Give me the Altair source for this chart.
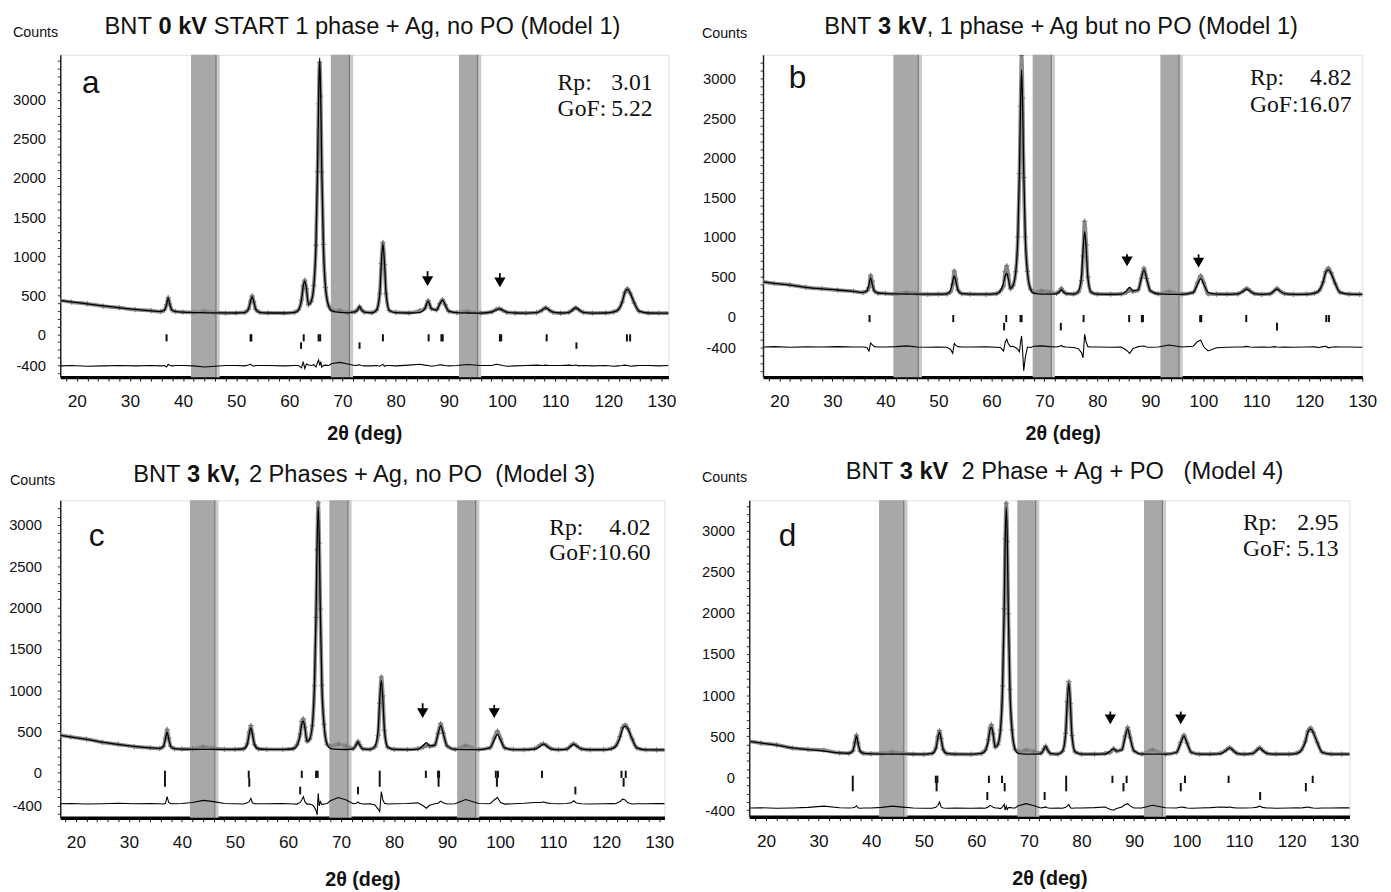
import altair as alt
import pandas as pd

# ---------------- shared 2-theta sampling of the profiles ----------------
two_theta = [
    17, 19, 22, 25, 28, 31, 34,
    35.8, 36.5, 36.9, 37.2, 37.5, 37.9, 38.6,
    40, 42, 44, 46, 48, 50,
    51.6, 52.3, 52.7, 53.0, 53.3, 53.7, 54.4,
    56, 59, 61,
    61.7, 62.3, 62.6, 62.9, 63.2, 63.6,
    64.1, 64.6, 65.0, 65.3, 65.5, 65.7, 65.9, 66.1, 66.4, 66.8, 67.4,
    68, 69.5, 71,
    72.3, 72.9, 73.2, 73.5, 74.1,
    75.5,
    76.4, 77.0, 77.3, 77.6, 77.9, 78.2, 78.8,
    80, 82.5, 84.5,
    85.5, 86.1, 86.7,
    87.7, 88.3, 88.8, 89.3, 90.0,
    91.5, 93.5, 96,
    98.1, 98.9, 99.5, 100.1, 100.9,
    102.5, 104.5, 106.5,
    107.6, 108.2, 108.8, 109.6,
    111, 112.6,
    113.4, 113.9, 114.4, 115.3,
    117, 119.5, 121,
    121.8, 122.6, 123.1, 123.6, 124.1, 124.9, 125.8,
    127.5, 129.5, 131.5]

# ---------------- panel a ----------------
calc_a = [
    430, 414, 388, 362, 338, 318, 300,
    292, 310, 380, 462, 385, 312, 290,
    282, 278, 275, 274, 273, 272,
    278, 320, 420, 483, 420, 318, 280,
    272, 272, 280,
    310, 450, 610, 680, 590, 380,
    420, 620, 1150, 2100, 3000, 3540, 3000, 2100, 1150, 600, 360,
    300, 280, 275,
    285, 320, 354, 322, 283,
    275,
    310, 520, 900, 1158, 900, 520, 305,
    278, 272, 278,
    330, 420, 330,
    310, 390, 437, 380, 295,
    276, 272, 270,
    285, 312, 325, 310, 282,
    272, 270, 276,
    310, 337, 315, 282,
    272, 280,
    318, 337, 318, 280,
    270, 272, 285,
    310, 410, 530, 575, 530, 400, 295,
    272, 270, 270]
obs_a = [
    432, 412, 390, 360, 340, 316, 302,
    290, 312, 378, 470, 388, 310, 291,
    283, 280, 292, 276, 272, 273,
    279, 322, 425, 490, 418, 316, 281,
    273, 271, 281,
    312, 440, 620, 692, 585, 378,
    418, 625, 1140, 2080, 2950, 3480, 3050, 2080, 1150, 598, 362,
    305, 302, 280,
    286, 322, 356, 320, 282,
    276,
    308, 518, 905, 1175, 895, 518, 304,
    279, 274, 300,
    332, 432, 328,
    312, 392, 442, 378, 294,
    277, 290, 271,
    286, 318, 328, 309, 281,
    273, 271, 277,
    311, 340, 314, 281,
    271, 281,
    319, 340, 316, 279,
    271, 273, 286,
    312, 412, 535, 585, 528, 398, 294,
    272, 271, 270]
diff_a = [
    -405, -400, -410, -405, -400, -405, -400,
    -405, -400, -420, -385, -400, -405, -400,
    -400, -405, -420, -410, -400, -400,
    -405, -395, -385, -400, -410, -400, -400,
    -400, -405, -400,
    -400, -430, -350, -440, -380, -395,
    -400, -390, -420, -360, -330, -400, -350, -420, -400, -395, -400,
    -375, -360, -380,
    -400, -395, -390, -400, -405,
    -405,
    -400, -410, -395, -385, -410, -400, -400,
    -405, -395, -385,
    -395, -400, -410,
    -400, -390, -395, -400, -405,
    -400, -388, -400,
    -400, -385, -390, -400, -410,
    -405, -400, -395,
    -400, -395, -400, -400,
    -400, -395,
    -400, -395, -405, -400,
    -405, -400, -410,
    -405, -400, -395, -400, -410, -405, -400,
    -400, -405, -400]

# ---------------- panel b ----------------
calc_b = [
    430, 414, 392, 364, 345, 330, 312,
    300, 320, 400, 482, 405, 318, 292,
    285, 280, 278, 278, 277, 277,
    282, 330, 440, 509, 440, 325, 283,
    277, 277, 285,
    320, 420, 510, 540, 470, 350,
    390, 560, 1020, 1850, 2650, 3110, 2650, 1850, 1000, 560, 340,
    290, 278, 277,
    285, 310, 333, 312, 284,
    278,
    310, 500, 840, 1066, 840, 490, 305,
    278, 276, 278,
    320, 364, 320,
    330, 480, 583, 470, 320,
    280, 276, 276,
    300, 400, 474, 400, 300,
    278, 276, 280,
    318, 342, 318, 285,
    276, 282,
    320, 342, 320, 284,
    276, 276, 290,
    320, 430, 550, 583, 540, 410, 300,
    278, 276, 276]
obs_b = [
    432, 412, 394, 362, 346, 328, 314,
    298, 318, 360, 515, 440, 320, 290,
    286, 282, 298, 282, 276, 277,
    280, 305, 400, 570, 470, 330, 283,
    278, 276, 284,
    318, 380, 560, 636, 520, 345,
    388, 560, 1000, 1800, 2650, 3290, 2750, 1750, 1000, 565, 338,
    300, 320, 300,
    286, 318, 350, 318, 284,
    279,
    305, 450, 760, 1197, 900, 495, 304,
    279, 277, 280,
    300, 330, 312,
    330, 480, 605, 475, 320,
    282, 307, 278,
    300, 420, 509, 420, 280,
    278, 277, 280,
    322, 350, 320, 284,
    276, 282,
    322, 350, 322, 284,
    276, 277, 290,
    318, 430, 560, 605, 548, 410, 300,
    278, 276, 276]
diff_b = [
    -390, -385, -392, -388, -390, -385, -390,
    -390, -395, -440, -340, -360, -385, -390,
    -390, -385, -375, -390, -392, -390,
    -392, -420, -470, -345, -370, -385, -390,
    -390, -388, -392,
    -395, -440, -330, -290, -350, -385,
    -380, -400, -420, -450, -330, -250, -450, -690, -520, -390, -395,
    -380, -375, -385,
    -390, -380, -370, -385, -390,
    -395,
    -410, -460, -525, -230, -330, -385, -390,
    -390, -392, -390,
    -430, -470, -410,
    -385, -380, -378, -390, -392,
    -390, -365, -390,
    -380, -320, -303, -390, -440,
    -400, -392, -390,
    -388, -382, -390, -392,
    -390, -392,
    -385, -390, -392, -390,
    -392, -390, -388,
    -395, -385, -380, -400, -392, -388, -390,
    -390, -392, -390]

# ---------------- panel c ----------------
calc_c = [
    452, 435, 405, 370, 342, 318, 300,
    295, 320, 410, 492, 410, 320, 292,
    286, 283, 282, 282, 282, 282,
    288, 340, 470, 544, 465, 340, 290,
    282, 282, 290,
    330, 460, 590, 623, 540, 380,
    410, 580, 1080, 1950, 2800, 3223, 2800, 1950, 1050, 580, 340,
    292, 282, 281,
    290, 340, 373, 340, 290,
    282,
    318, 520, 880, 1119, 880, 510, 310,
    282, 280, 283,
    330, 365, 325,
    335, 470, 571, 470, 325,
    282, 280, 280,
    300, 395, 464, 395, 300,
    280, 279, 285,
    322, 345, 322, 290,
    279, 286,
    325, 345, 325, 288,
    278, 278, 290,
    320, 420, 530, 563, 530, 410, 300,
    277, 276, 276]
obs_c = [
    454, 433, 407, 368, 344, 316, 302,
    293, 318, 420, 524, 420, 318, 290,
    287, 290, 313, 295, 283, 282,
    288, 350, 490, 571, 470, 338, 289,
    283, 281, 291,
    338, 470, 620, 651, 550, 378,
    405, 570, 1050, 1880, 2700, 3270, 2780, 1980, 1060, 585, 342,
    320, 345, 322,
    291, 345, 380, 340, 289,
    283,
    312, 450, 840, 1159, 930, 515, 308,
    283, 281, 290,
    310, 330, 320,
    336, 475, 595, 478, 324,
    283, 325, 281,
    302, 420, 504, 410, 298,
    281, 280, 290,
    335, 350, 328, 292,
    279, 287,
    330, 350, 328, 289,
    278, 279, 292,
    322, 440, 550, 579, 534, 408, 300,
    278, 276, 276]
diff_c = [
    -375, -372, -378, -375, -370, -375, -372,
    -375, -378, -370, -290, -360, -375, -375,
    -372, -360, -335, -350, -372, -375,
    -378, -365, -350, -310, -365, -375, -375,
    -375, -372, -378,
    -380, -360, -330, -290, -350, -380,
    -380, -390, -420, -460, -510, -250, -400, -350, -385, -378, -372,
    -340, -300, -330,
    -375, -370, -355, -370, -378,
    -375,
    -390, -440, -470, -230, -330, -370, -378,
    -375, -372, -365,
    -400, -430, -395,
    -375, -370, -345, -365, -378,
    -375, -325, -372,
    -375, -330, -300, -360, -380,
    -375, -370, -360,
    -360, -355, -365, -372,
    -375, -372,
    -365, -340, -368, -375,
    -378, -375, -372,
    -375, -350, -320, -330, -365, -378, -375,
    -375, -372, -375]

# ---------------- panel d ----------------
calc_d = [
    435, 418, 392, 358, 338, 320, 298,
    293, 320, 420, 500, 415, 320, 292,
    286, 283, 282, 281, 281, 281,
    290, 345, 480, 550, 470, 340, 290,
    281, 281, 290,
    325, 450, 575, 608, 525, 370,
    400, 580, 1100, 2000, 2880, 3285, 2880, 1980, 1060, 580, 340,
    290, 282, 281,
    292, 345, 377, 342, 290,
    282,
    318, 530, 900, 1146, 890, 510, 310,
    282, 281, 283,
    320, 346, 318,
    335, 480, 588, 470, 322,
    282, 281, 281,
    305, 420, 500, 415, 305,
    281, 281, 288,
    330, 358, 330, 292,
    281, 290,
    330, 358, 330, 292,
    281, 281, 292,
    325, 430, 550, 588, 545, 420, 305,
    282, 281, 281]
obs_d = [
    437, 416, 394, 356, 340, 330, 296,
    292, 322, 425, 512, 418, 318, 291,
    287, 290, 308, 290, 281, 280,
    291, 355, 500, 569, 472, 339, 289,
    282, 280, 291,
    330, 460, 600, 638, 530, 368,
    398, 575, 1110, 2050, 2900, 3333, 2870, 1990, 1070, 578, 338,
    310, 331, 312,
    292, 348, 380, 340, 289,
    282,
    316, 535, 920, 1165, 895, 508, 309,
    283, 282, 290,
    305, 350, 320,
    340, 500, 608, 480, 322,
    283, 331, 282,
    306, 425, 512, 418, 304,
    282, 283, 292,
    335, 360, 332, 292,
    281, 292,
    335, 360, 332, 292,
    281, 282, 294,
    328, 438, 560, 600, 548, 420, 305,
    282, 281, 281]
diff_d = [
    -372, -370, -375, -372, -365, -350, -370,
    -372, -370, -365, -345, -370, -375, -372,
    -372, -365, -350, -362, -372, -375,
    -375, -365, -340, -300, -360, -372, -375,
    -372, -375, -372,
    -375, -360, -340, -350, -365, -372,
    -372, -380, -360, -330, -400, -350, -390, -370, -365, -372, -372,
    -345, -320, -345,
    -372, -365, -360, -370, -375,
    -372,
    -375, -365, -350, -330, -370, -375, -372,
    -372, -368, -360,
    -390, -400, -380,
    -360, -330, -320, -350, -372,
    -372, -340, -370,
    -372, -360, -365, -372, -375,
    -372, -368, -360,
    -365, -360, -368, -372,
    -372, -370,
    -362, -350, -365, -372,
    -375, -372, -370,
    -372, -365, -360, -368, -372, -375, -372,
    -372, -370, -372]

for arr in [calc_a, obs_a, diff_a, calc_b, obs_b, diff_b,
            calc_c, obs_c, diff_c, calc_d, obs_d, diff_d]:
    if len(arr) != len(two_theta):
        raise ValueError("length mismatch %d" % len(arr))

# ---------------- Bragg tick rows: (positions, top, bottom) ----------------
ticks_a = [([36.9, 52.7, 52.85, 62.7, 65.5, 65.8, 77.6, 86.2, 88.6, 88.85,
             99.6, 99.85, 108.4, 123.5, 124.1], 0, -92),
           ([62.2, 73.2, 114.0], -104, -187)]
ticks_b = [([37.0, 52.8, 62.8, 65.5, 65.7, 77.4, 86.0, 88.4, 88.6, 99.4,
             99.6, 108.1, 123.2, 123.7], 14, -76),
           ([62.4, 73.1, 113.9], -85, -180)]
ticks_c = [([36.8, 52.6, 62.6, 65.3, 65.6, 77.3, 86.0, 88.3, 88.5, 99.2,
             99.6, 107.9, 122.9, 123.7], 24, -63),
           ([36.8, 52.7, 77.3, 88.4, 99.4, 123.3], -63, -170),
           ([62.3, 73.2, 114.2], -170, -262)]
ticks_d = [([36.5, 52.3, 52.6, 62.4, 64.9, 77.1, 85.9, 88.6, 99.7, 108.0,
             124.0], 20, -69),
           ([36.5, 52.45, 65.4, 77.1, 88.0, 98.9, 122.7], -69, -170),
           ([62.1, 73.0, 114.0], -178, -275)]

# ---------------- arrows: x, shaft top, head ----------------
arrow_x = {'a': [86.0, 99.6], 'b': [85.6, 99.1], 'c': [85.4, 98.9], 'd': [85.5, 98.9]}
arrow_top = {'a': [808, 783], 'b': [780, 780], 'c': [841, 821], 'd': [800, 800]}
arrow_head = {'a': [680, 665], 'b': [690, 675], 'c': [722, 722], 'd': [705, 705]}

# ---------------- excluded (shaded) regions ----------------
band_start = [41.5, 67.8, 91.9]
band_edge = [46.2, 71.3, 95.4]
band_end = [46.9, 72.0, 96.1]

y_labelled = [-400, 0, 500, 1000, 1500, 2000, 2500, 3000]

# title pieces: normal prefix, bold part, normal rest, leading spaces of the rest
titles = {
    'a': ("BNT", "0 kV", "START 1 phase + Ag, no PO (Model 1)", 1),
    'b': ("BNT", "3 kV", ", 1 phase + Ag but no PO (Model 1)", 0),
    'c': ("BNT", "3 kV,", "2 Phases + Ag, no PO\u00a0\u00a0(Model 3)", 1),
    'd': ("BNT", "3 kV", "2 Phase + Ag + PO\u00a0\u00a0\u00a0(Model 4)", 2),
}
rp_values = {'a': ("3.01", "5.22"), 'b': ("4.82", "16.07"),
             'c': ("4.02", "10.60"), 'd': ("2.95", "5.13")}

SANS = "Liberation Sans"
SERIF = "Liberation Serif"
TFS = 24                      # title font size
PRE_W = 2.278 * TFS           # "BNT " width
SPACE_W = 0.278 * TFS
BOLD_W = {"0 kV": 2.057 * TFS, "3 kV": 2.057 * TFS, "3 kV,": 2.335 * TFS}

layout = {
    'a': dict(calc=calc_a, obs=obs_a, diff=diff_a, ticks=ticks_a,
              xdom=[16.9, 131.3], ydom=[-549, 3578], w=617, h=327, ypad=12, tpad=14,
              counts=(-48, -18), ty=-21, tx=45,
              letter=(22, 39), rx0=504.6, rx1=601, ry=(36, 62)),
    'b': dict(calc=calc_b, obs=obs_b, diff=diff_b, ticks=ticks_b,
              xdom=[16.9, 130.0], ydom=[-770, 3299], w=608, h=327, ypad=25, tpad=14,
              counts=(-62, -17), ty=-21, tx=62,
              letter=(26, 34), rx0=494, rx1=597, ry=(31, 58)),
    'c': dict(calc=calc_c, obs=obs_c, diff=diff_c, ticks=ticks_c,
              xdom=[17.05, 131.0], ydom=[-545, 3298], w=613, h=322, ypad=16, tpad=19,
              counts=(-51, -16), ty=-19, tx=74,
              letter=(29, 46), rx0=496, rx1=599, ry=(35, 61)),
    'd': dict(calc=calc_d, obs=obs_d, diff=diff_d, ticks=ticks_d,
              xdom=[16.8, 131.0], ydom=[-479, 3368], w=609, h=321, ypad=12, tpad=19,
              counts=(-48, -19), ty=-22, tx=98,
              letter=(30, 46), rx0=501, rx1=598, ry=(30, 56)),
}


def text_layer(txt, x, y, size, font=SANS, weight="normal", align="left"):
    return alt.Chart(pd.DataFrame({"t": [txt]})).mark_text(
        font=font, fontSize=size, fontWeight=weight, align=align,
        baseline="alphabetic", color="#111").encode(
        text="t:N", x=alt.value(x), y=alt.value(y))


def make_panel(key):
    p = layout[key]
    xs = alt.Scale(domain=p['xdom'], nice=False, zero=False)
    ys = alt.Scale(domain=p['ydom'], nice=False, zero=False)
    xvals = [v for v in range(18, 132, 2) if p['xdom'][0] <= v <= p['xdom'][1]]
    yvals = [v for v in range(-800, 3700, 100) if p['ydom'][0] <= v <= p['ydom'][1]]
    xaxis = alt.Axis(values=xvals,
                     labelExpr="datum.value % 10 === 0 ? '' + datum.value : ''",
                     title="2θ (deg)", titleFont=SANS, titleFontSize=20,
                     titleFontWeight="bold", titleColor="#111", titlePadding=p['tpad'],
                     labelFont=SANS, labelFontSize=17.5, labelColor="#111",
                     labelPadding=12, labelFlush=False, labelOverlap=False,
                     tickSize=4, tickColor="#111", tickWidth=1,
                     domainColor="#000", domainWidth=3.5, grid=False)
    yaxis = alt.Axis(values=yvals,
                     labelExpr="indexof(%s, datum.value) >= 0 ? '' + datum.value : ''" % str(y_labelled),
                     title=None, labelFont=SANS, labelFontSize=15, labelColor="#111",
                     labelPadding=p['ypad'], labelOverlap=False, labelFlush=False,
                     tickSize=3, tickColor="#333", tickWidth=1,
                     domainColor="#222", domainWidth=1.5, grid=False)

    X = lambda f: alt.X(f, scale=xs, axis=xaxis)
    Y = lambda f: alt.Y(f, scale=ys, axis=yaxis)

    bands = pd.DataFrame({"s": band_start, "e": band_edge, "f": band_end})
    prof = pd.DataFrame({"tt": two_theta, "obs": p['obs'], "calc": p['calc'], "diff": p['diff']})
    rows = []
    for pos, top, bot in p['ticks']:
        for v in pos:
            rows.append({"x": v, "y1": top, "y2": bot})
    tick_df = pd.DataFrame(rows)
    arr = pd.DataFrame({"x": arrow_x[key], "top": arrow_top[key], "head": arrow_head[key]})

    layers = [
        alt.Chart(bands).mark_rect(color="#a8a8a8").encode(x=X("s:Q"), x2="e:Q"),
        alt.Chart(bands).mark_rect(color="#cacaca").encode(x=X("e:Q"), x2="f:Q"),
        alt.Chart(bands).mark_rule(color="#777", strokeWidth=1.2).encode(x=X("e:Q")),
        alt.Chart(prof).mark_line(color="#8a8a8a", strokeWidth=3.8, interpolate="monotone",
                                  clip=True).encode(x=X("tt:Q"), y=Y("obs:Q")),
        alt.Chart(prof).mark_point(shape="M-1,0L1,0M0,-1L0,1", size=30, filled=False,
                                   color="#777", strokeWidth=1, opacity=1,
                                   clip=True).encode(x=X("tt:Q"), y=Y("obs:Q")),
        alt.Chart(prof).mark_line(color="#000", strokeWidth=1.3, interpolate="monotone",
                                  clip=True).encode(x=X("tt:Q"), y=Y("calc:Q")),
        alt.Chart(tick_df).mark_rule(color="#111", strokeWidth=2).encode(
            x=X("x:Q"), y=Y("y1:Q"), y2="y2:Q"),
        alt.Chart(prof).mark_line(color="#000", strokeWidth=1.1, clip=True).encode(
            x=X("tt:Q"), y=Y("diff:Q")),
        alt.Chart(arr).mark_rule(color="#000", strokeWidth=1.8).encode(
            x=X("x:Q"), y=Y("top:Q"), y2="head:Q"),
        alt.Chart(arr).mark_point(shape="triangle-down", filled=True, size=130,
                                  color="#000", opacity=1).encode(x=X("x:Q"), y=Y("head:Q")),
    ]
    pre, bold, post, lead = titles[key]
    bx = p['tx'] + PRE_W
    layers += [
        text_layer(pre, p['tx'], p['ty'], TFS),
        text_layer(bold, bx, p['ty'], TFS, weight="bold"),
        text_layer(post, bx + BOLD_W[bold] + lead * SPACE_W, p['ty'], TFS),
        text_layer("Counts", p['counts'][0], p['counts'][1], 14.5),
        text_layer(key, p['letter'][0], p['letter'][1], 32),
        text_layer("Rp:", p['rx0'], p['ry'][0], 24, font=SERIF),
        text_layer(rp_values[key][0], p['rx1'], p['ry'][0], 24, font=SERIF, align="right"),
        text_layer("GoF:", p['rx0'], p['ry'][1], 24, font=SERIF),
        text_layer(rp_values[key][1], p['rx1'], p['ry'][1], 24, font=SERIF, align="right"),
    ]
    return alt.layer(*layers).properties(width=p['w'], height=p['h'])


top = alt.hconcat(make_panel('a'), make_panel('b'), spacing=24).resolve_scale(
    x="independent", y="independent")
bottom = alt.hconcat(make_panel('c'), make_panel('d'), spacing=27).resolve_scale(
    x="independent", y="independent")
chart = alt.vconcat(top, bottom, spacing=15).resolve_scale(
    x="independent", y="independent").properties(
    padding={"left": 0, "top": 0, "right": 5, "bottom": 5}).configure_view(
    stroke="#222", strokeWidth=1.3).configure(background="white")

chart.save("out.html", embed_options={"renderer": "svg", "actions": False})
